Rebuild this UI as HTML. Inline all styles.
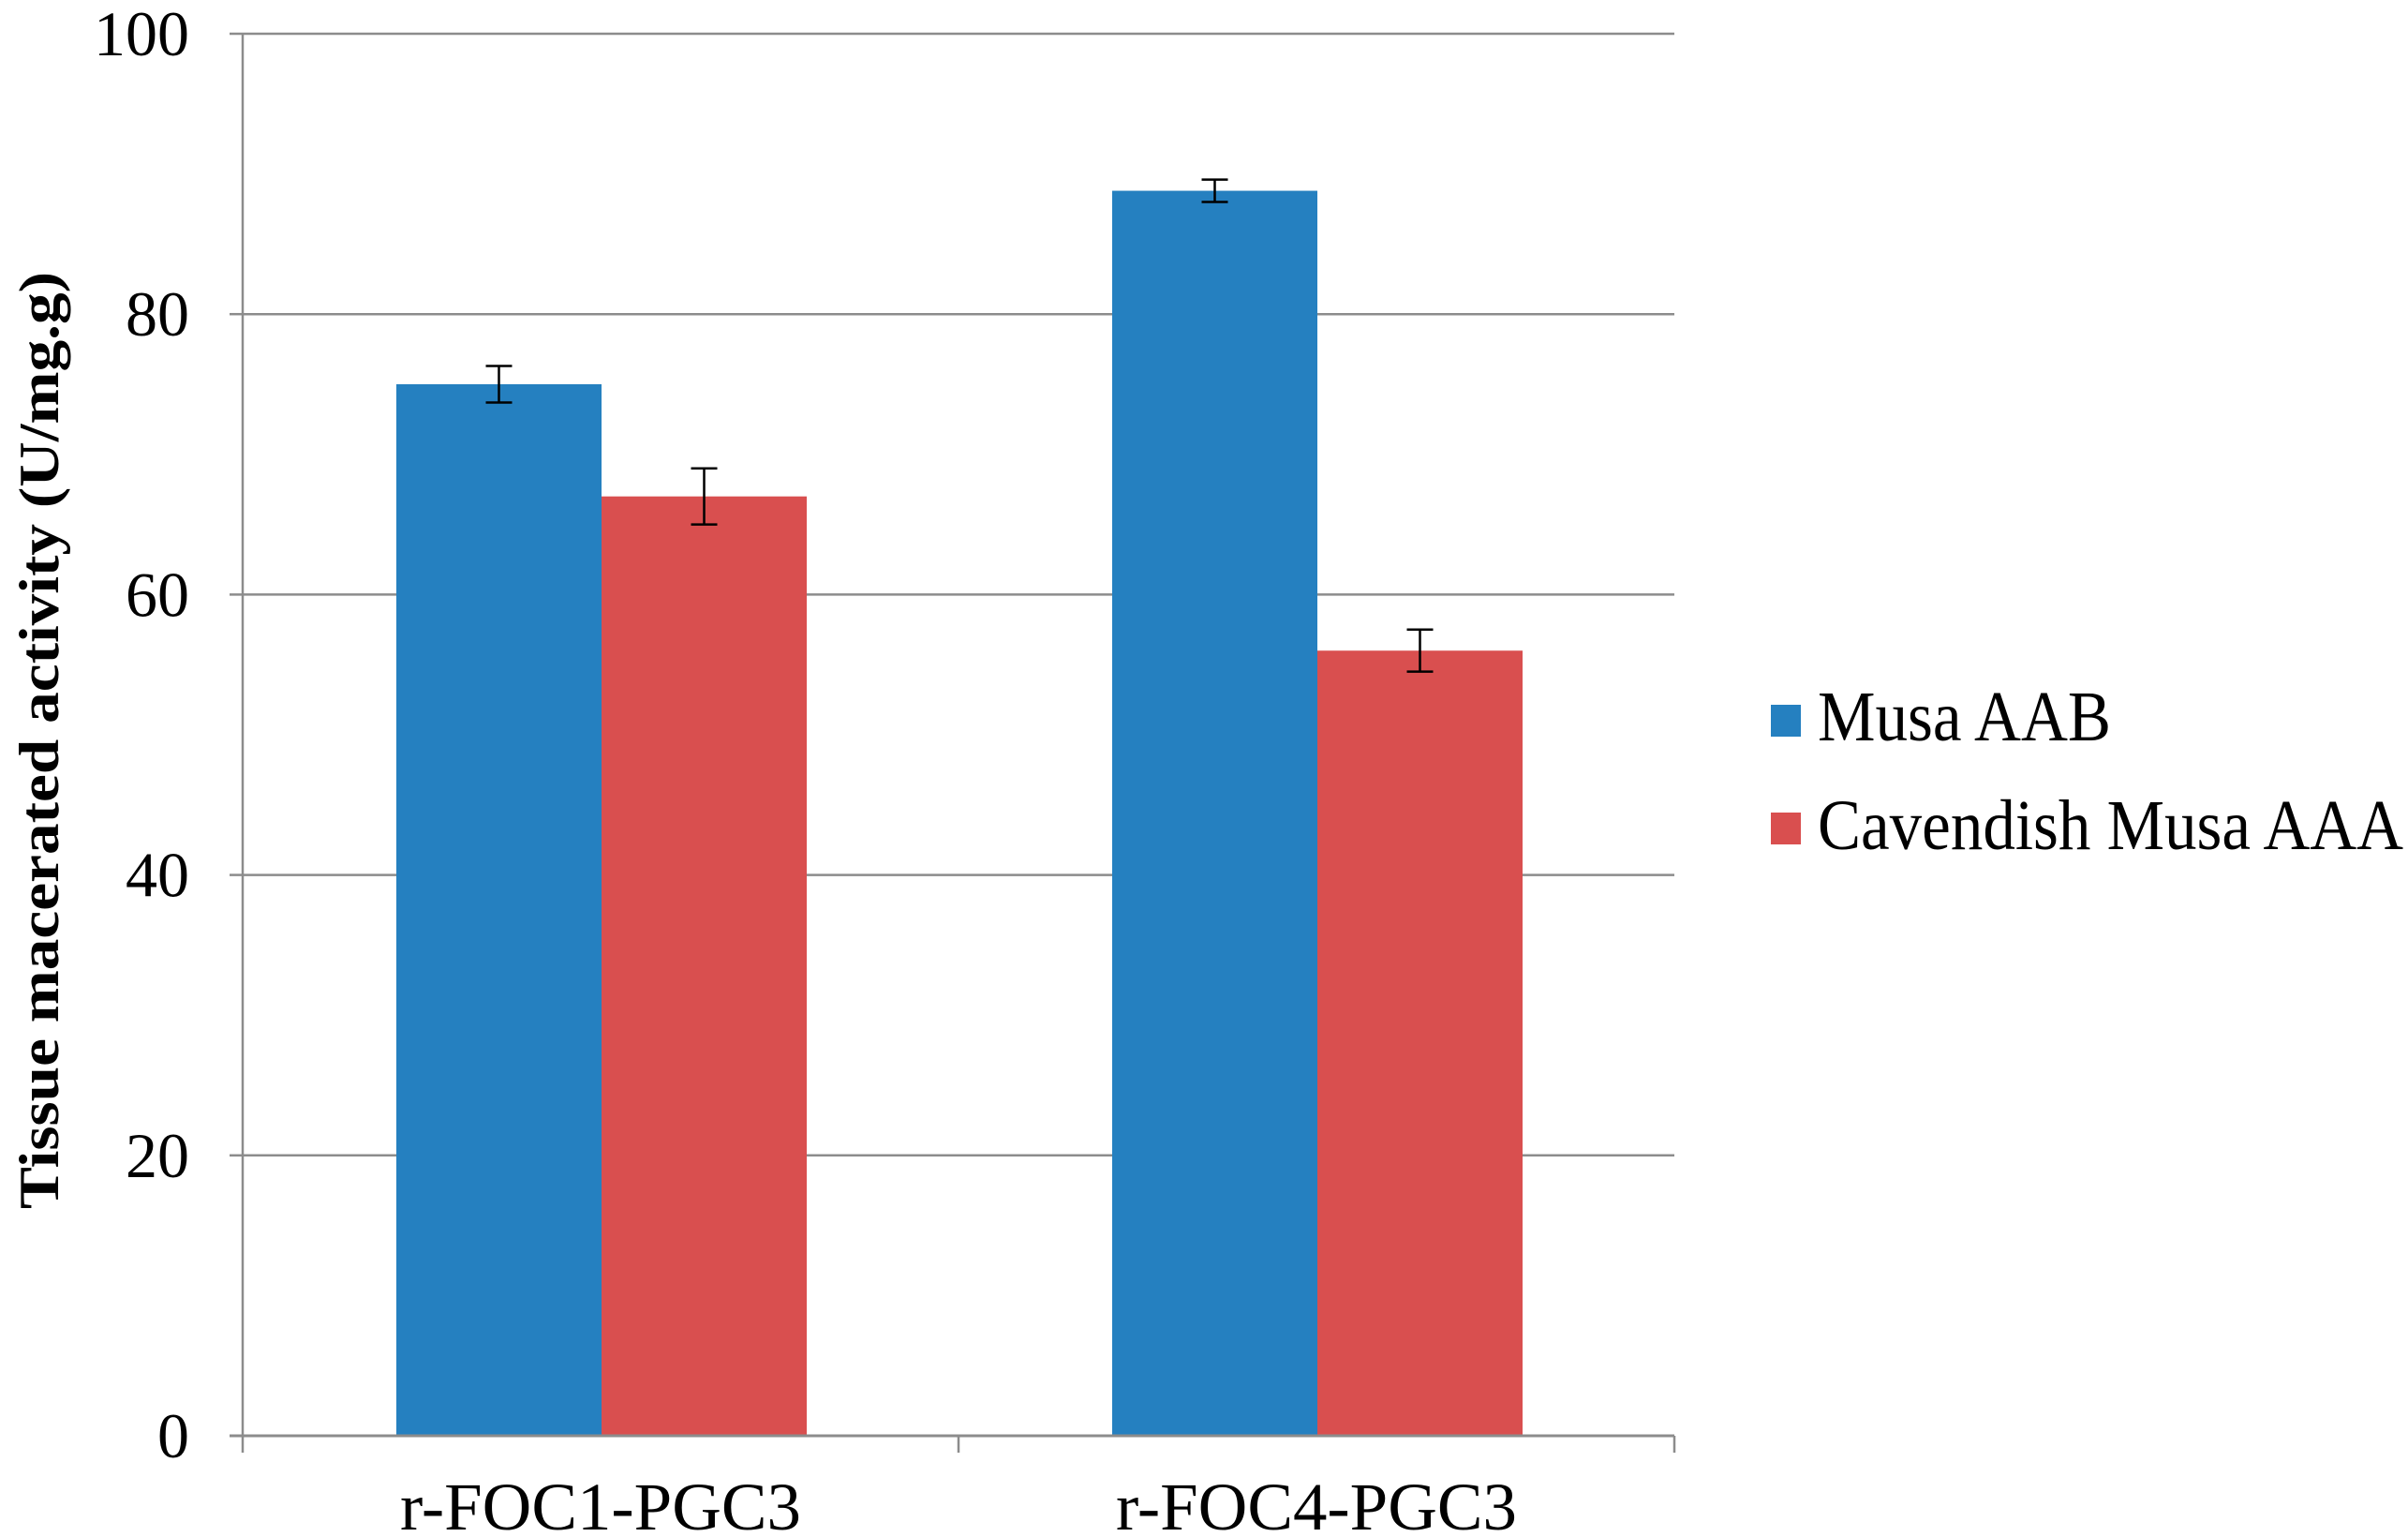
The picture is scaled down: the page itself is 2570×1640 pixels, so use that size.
<!DOCTYPE html>
<html><head><meta charset="utf-8"><style>
html,body{margin:0;padding:0;background:#fff;}
svg{display:block;font-family:"Liberation Serif",serif;}
</style></head><body>
<svg id="chart" width="2570" height="1640" viewBox="0 0 2570 1640" xmlns="http://www.w3.org/2000/svg">
<g id="grid"></g>
<g id="bars"></g>
<g id="axes"></g>
<text transform="translate(62,790) rotate(-90)" text-anchor="middle" font-weight="bold" font-size="60" textLength="1000" lengthAdjust="spacingAndGlyphs">Tissue macerated activity (U/mg.g)</text>
<g>
  <g>
    <rect x="1890" y="752" width="32" height="34" fill="#2580c0"></rect>
    <text x="1940" y="790" font-size="76" textLength="313" lengthAdjust="spacingAndGlyphs">Musa AAB</text>
  </g>
  <g>
    <rect x="1890" y="867" width="32" height="34" fill="#d94f4f"></rect>
    <text x="1940" y="906" font-size="76" textLength="625" lengthAdjust="spacingAndGlyphs">Cavendish Musa AAA</text>
  </g>
</g>
</svg>
<script>
const categories = ["r-FOC1-PGC3", "r-FOC4-PGC3"];
const seriesNames = ["Musa AAB", "Cavendish Musa AAA"];
const musaAAB = [75, 88.8];
const cavendishAAA = [67, 56];
const musaAABErr = [1.3, 0.8];
const cavendishAAAErr = [2.0, 1.5];
const yTicks = [0, 20, 40, 60, 80, 100];

const NS = "http://www.w3.org/2000/svg";
const X0 = 259, X1 = 1787, Y0 = 1532, Y100 = 36;
const colors = ["#2580c0", "#d94f4f"];
function y(v){ return Y0 - (v/100)*(Y0-Y100); }
const catW = (X1-X0)/categories.length;
function catX(i){ return X0 + i*catW; }
const barW = 219, groupOff = 164;
function mk(tag, attrs, parent){ const e=document.createElementNS(NS,tag); for(const k in attrs) e.setAttribute(k,attrs[k]); parent.appendChild(e); return e; }

const grid = document.getElementById('grid');
const axes = document.getElementById('axes');
const bars = document.getElementById('bars');

yTicks.forEach(t=>{
  if(t>0){
    const l = mk('line',{x1:X0,x2:X1,y1:y(t),y2:y(t),stroke:'#8c8c8c','stroke-width':2.5},grid);
    
    
  }
  const tk = mk('line',{x1:X0-14,x2:X0,y1:y(t),y2:y(t),stroke:'#8c8c8c','stroke-width':2.5},axes);
  
  
  const tx = mk('text',{x:202,y:y(t)+23,'text-anchor':'end','font-size':68},axes);
  tx.textContent = t;
  
  
});

const all = [musaAAB, cavendishAAA];
const errs = [musaAABErr, cavendishAAAErr];
categories.forEach((c,i)=>{
  all.forEach((s,j)=>{
    const bx = catX(i)+groupOff+j*barW;
    const r = mk('rect',{x:bx,y:y(s[i]),width:barW,height:Y0-y(s[i]),fill:colors[j]},bars);
    
    
    const cx = bx+barW/2, e = errs[j][i];
    const eg = mk('g',{stroke:'#000','stroke-width':2.5},bars);
    
    
    mk('line',{x1:cx,x2:cx,y1:y(s[i]+e),y2:y(s[i]-e)},eg);
    mk('line',{x1:cx-14,x2:cx+14,y1:y(s[i]+e),y2:y(s[i]+e)},eg);
    mk('line',{x1:cx-14,x2:cx+14,y1:y(s[i]-e),y2:y(s[i]-e)},eg);
  });
  const lbl = mk('text',{x:catX(i)+catW/2,y:1632,'text-anchor':'middle','font-size':72,textLength:428,lengthAdjust:'spacingAndGlyphs'},axes);
  lbl.textContent = c;
  
  
});
for(let i=0;i<=categories.length;i++){
  const t = mk('line',{x1:catX(i),x2:catX(i),y1:Y0,y2:Y0+18,stroke:'#8c8c8c','stroke-width':2.5},axes);
  
  
}
const ya = mk('line',{x1:X0,x2:X0,y1:Y100,y2:Y0,stroke:'#8c8c8c','stroke-width':2.5},axes);


const xa = mk('line',{x1:X0-14,x2:X1,y1:Y0,y2:Y0,stroke:'#8c8c8c','stroke-width':3},axes);


</script>
</body></html>
